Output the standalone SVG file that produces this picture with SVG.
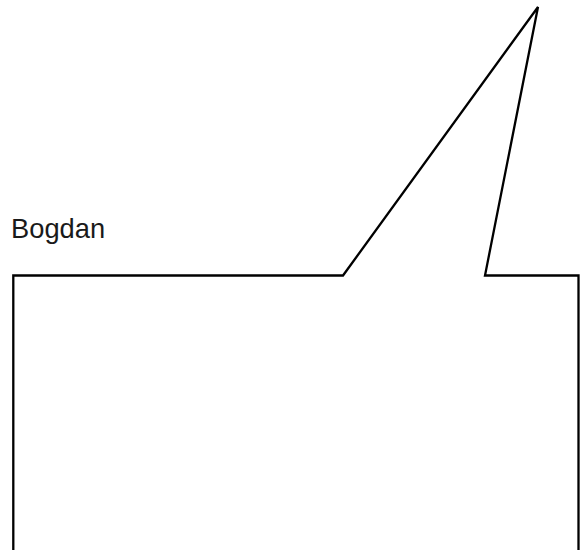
<svg xmlns="http://www.w3.org/2000/svg" width="581" height="550" viewBox="0 0 581 550">
<style>
.bubble{fill:#fff;stroke:#000;stroke-width:2.3;stroke-linejoin:miter}
.lbl{font-family:"Liberation Sans",Arial,sans-serif;font-size:27.3px;fill:#1a1a1a}
</style>
<rect width="581" height="550" fill="#fff"/>
<g id="label"><text class="lbl" x="11" y="238">Bogdan</text></g>
<g id="bubble"><path class="bubble" d="M13.3,560 L13.3,275.5 L343,275.5 L538,7 L485,275.5 L578.5,275.5 L578.5,560"/></g>
</svg>
